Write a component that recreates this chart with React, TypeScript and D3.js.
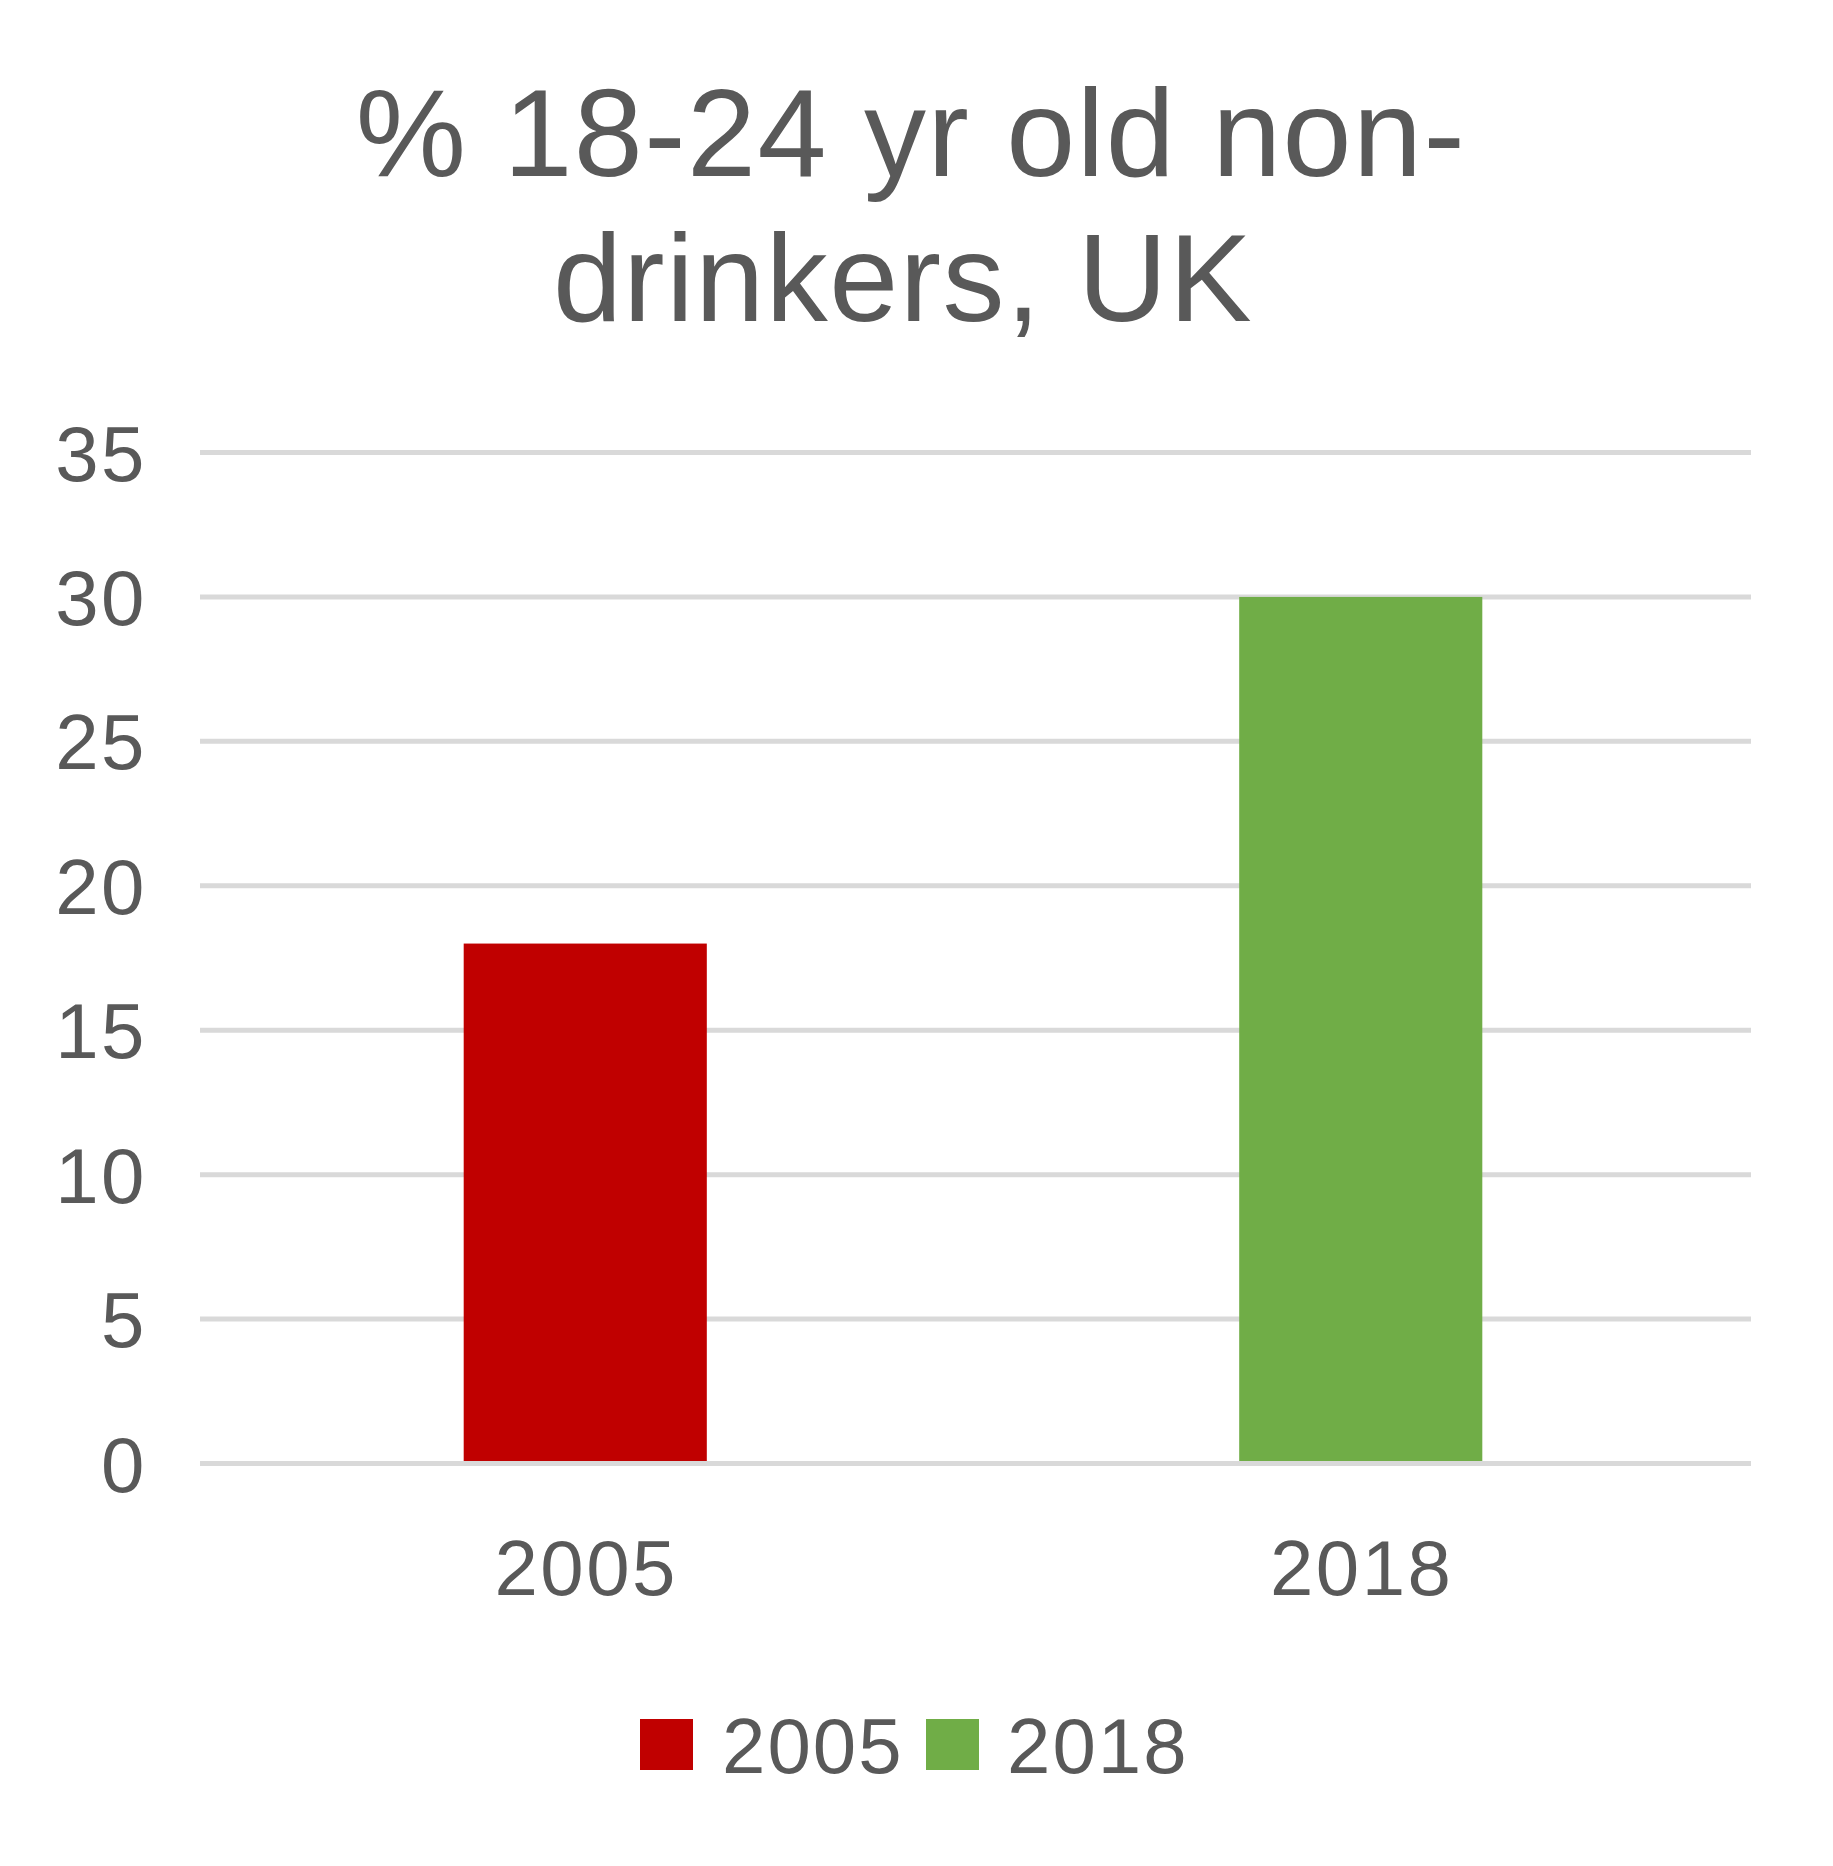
import React from "react";
import * as d3 from "d3";

const categories = ["2005", "2018"];
const values = [18, 30];
const colors = ["#C00000", "#70AD47"];
const yTicks = [0, 5, 10, 15, 20, 25, 30, 35];
const titleLines = ["% 18-24 yr old non-", "drinkers, UK"];

const W = 1833;
const H = 1866;
const FONT = "'Liberation Sans', Arial, Helvetica, sans-serif";
const TEXT = "#595959";

export default function App() {
  const plotLeft = 200;
  const plotRight = 1751;
  const plotTop = 452.5;
  const plotBottom = 1463.5;

  const y = d3.scaleLinear().domain([0, 35]).range([plotBottom, plotTop]);
  const x = d3
    .scaleBand<string>()
    .domain(categories)
    .range([plotLeft, plotRight])
    .paddingInner(0.6865)
    .paddingOuter(0.6865 / 2);

  const legendItems = [
    { label: categories[0], color: colors[0], sx: 640, tx: 722 },
    { label: categories[1], color: colors[1], sx: 926, tx: 1007 },
  ];

  return (
    <svg
      width={W}
      height={H}
      style={{ position: "absolute", left: 0, top: 0, background: "#fff" }}
      fontFamily={FONT}
    >
      <rect x={0} y={0} width={W} height={H} fill="#fff" />
      {titleLines.map((t, i) => (
        <text
          key={i}
          x={i === 0 ? 911 : 903}
          y={176 + i * 145}
          textAnchor="middle"
          fontSize={124}
          letterSpacing={1.5}
          fill={TEXT}
        >
          {t}
        </text>
      ))}
      {yTicks.map((t) => (
        <g key={t}>
          <line
            x1={plotLeft}
            x2={plotRight}
            y1={y(t)}
            y2={y(t)}
            stroke="#D9D9D9"
            strokeWidth={5}
          />
          <text
            x={147}
            y={y(t)}
            dy="0.36em"
            textAnchor="end"
            fontSize={78}
            letterSpacing={2.5}
            fill={TEXT}
          >
            {t}
          </text>
        </g>
      ))}
      {categories.map((c, i) => (
        <rect
          key={c}
          x={x(c)! - 2.5}
          y={y(values[i])}
          width={x.bandwidth()}
          height={y(0) - y(values[i]) - 2.5}
          fill={colors[i]}
        />
      ))}
      {categories.map((c) => (
        <text
          key={c}
          x={x(c)! - 2.5 + x.bandwidth() / 2 + 1}
          y={1595}
          textAnchor="middle"
          fontSize={78}
          letterSpacing={2.5}
          fill={TEXT}
        >
          {c}
        </text>
      ))}
      {legendItems.map((it) => (
        <g key={it.label}>
          <rect x={it.sx} y={1719} width={53} height={51} fill={it.color} />
          <text x={it.tx} y={1773} fontSize={78} letterSpacing={2} fill={TEXT}>
            {it.label}
          </text>
        </g>
      ))}
    </svg>
  );
}
